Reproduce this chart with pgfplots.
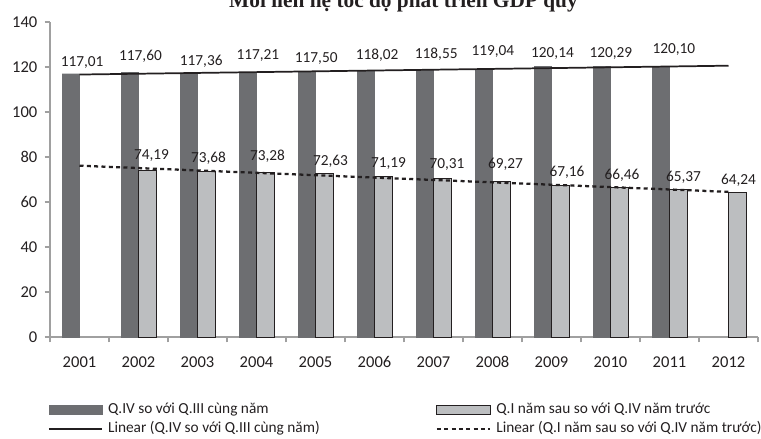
\documentclass[border=0pt]{standalone}
\usepackage{fontspec}
\setmainfont{Carlito}
\newfontfamily\titlefont{Liberation Serif}
\usepackage{pgfplots}
\usepackage{pgfplotstable}
\pgfplotsset{compat=1.18}
\definecolor{darkbar}{RGB}{109,110,113}
\definecolor{lightbar}{RGB}{188,190,192}
\definecolor{axisgray}{RGB}{160,160,160}
\definecolor{txt}{RGB}{35,31,32}

\pgfplotstableread{
x y dx dy
1 117.01 2.6 11
2 117.60 2.0 16.4
3 117.36 3.75 11.9
4 117.21 1.4 18
5 117.50 0.75 14.3
6 118.02 2.6 15.8
7 118.55 2.75 16.3
8 119.04 0.4 17.5
9 120.14 1.0 13.4
10 120.29 0.4 13
11 120.10 4.4 16.8
}\darktab

\pgfplotstableread{
x y dx dy
2 74.19 13 15
3 73.68 11 13
4 73.28 11 15.4
5 72.63 15 12.6
6 71.19 14 13.5
7 70.31 13.5 13.8
8 69.27 13 16.8
9 67.16 15.5 13.6
10 66.46 11.5 11.8
11 65.37 14 12.6
12 64.24 10 12.5
}\lighttab

\begin{document}
\begin{tikzpicture}
\begin{axis}[
  at={(37.5pt,76.5pt)}, anchor=south west,
  scale only axis,
  width=531pt, height=236.25pt,
  xmin=0.5, xmax=12.5,
  ymin=0, ymax=140,
  axis x line=bottom, axis y line=left,
  axis line style={-, draw=axisgray, line width=0.8pt},
  tick align=outside,
  major tick length=4pt,
  minor tick length=4pt,
  tick style={axisgray, line width=0.8pt},
  xtick={1,...,12},
  xticklabels={2001,2002,2003,2004,2005,2006,2007,2008,2009,2010,2011,2012},
  major x tick style={draw=none},
  minor xtick={0.5,1.5,...,12.5},
  ytick={0,20,...,140},
  /pgf/number format/assume math mode=true,
  tick label style={font=\fontsize{12.4}{14}\selectfont, text=txt},
  xticklabel style={yshift=-7pt},
  yticklabel style={xshift=-2pt},
  clip=false,
  legend columns=2,
  legend style={draw=none, fill=none,
    at={(-0.0028,-0.208)}, anchor=north west,
    inner sep=0pt, outer sep=0pt, row sep=3pt, column sep=0pt,
    nodes={inner sep=0pt, text height=8.6pt, text depth=2.6pt,
      font=\fontsize{11.5}{13}\selectfont, text=txt},
    /tikz/every odd column/.append style={column sep=3.75pt},
    /tikz/column 2/.style={column sep=87pt}},
  legend cell align=left,
]
\addplot[ybar, bar width=13.1pt, bar shift=-6.56pt, fill=darkbar, draw=darkbar, line width=0.3pt,
  visualization depends on={\thisrow{dx} \as \dx},
  visualization depends on={\thisrow{dy} \as \dy},
  nodes near coords={\pgfmathprintnumber[use comma,fixed,fixed zerofill,precision=2,assume math mode=true]{\pgfplotspointmeta}},
  every node near coord/.append style={anchor=center, xshift={\dx*0.75pt}, yshift={\dy*0.75pt},
    font=\fontsize{11.5}{13}\selectfont, text=txt, inner sep=0pt},
  legend image code/.code={\fill[darkbar] (0pt,-3.4pt) rectangle (40pt,3.4pt);}
] table[x=x,y=y] {\darktab};
\addlegendentry{Q.IV so với Q.III cùng năm}

\addplot[ybar, bar width=13.1pt, bar shift=6.56pt, fill=lightbar, draw=txt, line width=0.7pt,
  visualization depends on={\thisrow{dx} \as \dx},
  visualization depends on={\thisrow{dy} \as \dy},
  nodes near coords={\pgfmathprintnumber[use comma,fixed,fixed zerofill,precision=2,assume math mode=true]{\pgfplotspointmeta}},
  every node near coord/.append style={anchor=center, xshift={\dx*0.75pt}, yshift={\dy*0.75pt},
    font=\fontsize{11.5}{13}\selectfont, text=txt, inner sep=0pt},
  legend image code/.code={\filldraw[fill=lightbar, draw=txt, line width=0.7pt] (0pt,-3.4pt) rectangle (40pt,3.4pt);}
] table[x=x,y=y] {\lighttab};
\addlegendentry{Q.I năm sau so với Q.IV năm trước}

\addplot[txt, line width=1.3pt,
  legend image code/.code={\draw[txt, line width=1.3pt] (0pt,0pt) -- (40pt,0pt);}]
  coordinates {(1,116.65) (12,120.58)};
\addlegendentry{Linear (Q.IV so với Q.III cùng năm)}

\addplot[txt, line width=1.7pt, dash pattern=on 3pt off 2.5pt,
  legend image code/.code={\draw[txt, line width=1.7pt, dash pattern=on 3pt off 2.5pt] (0pt,0pt) -- (40pt,0pt);}]
  coordinates {(1,76.14) (12,64.51)};
\addlegendentry{Linear (Q.I năm sau so với Q.IV năm trước)}
\end{axis}
\node[anchor=base, font=\titlefont\bfseries\fontsize{16}{18}\selectfont, text=txt] at (302.6pt,323.25pt) {Mối liên hệ tốc độ phát triển GDP quý};
\pgfresetboundingbox
\path[use as bounding box] (0,0) rectangle (570.75pt,329.25pt);
\end{tikzpicture}
\end{document}
